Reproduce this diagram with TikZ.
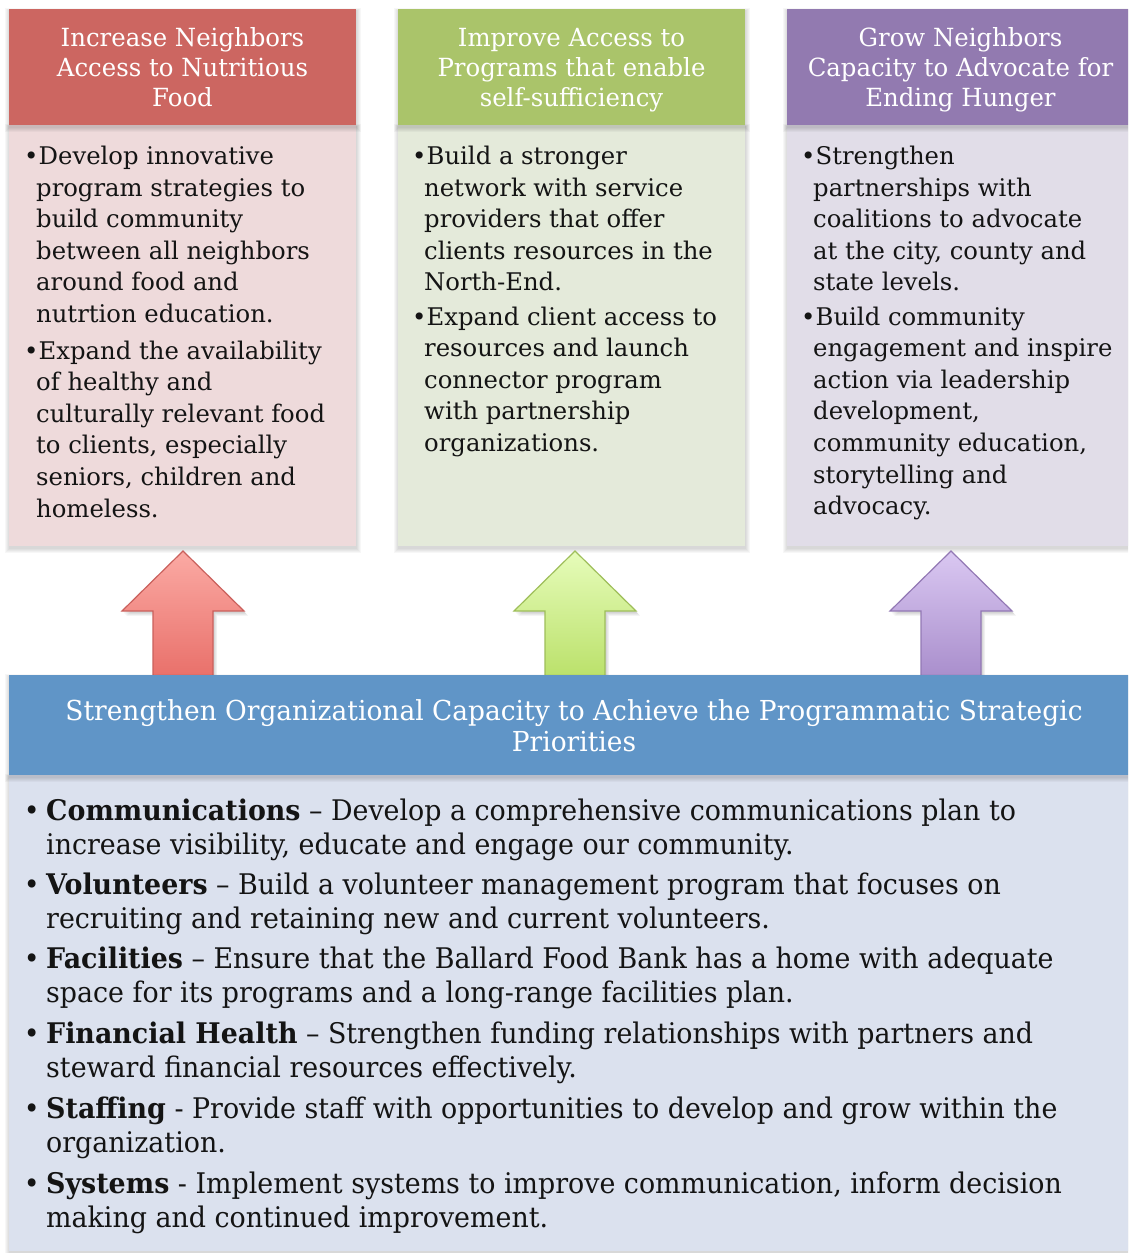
\documentclass[tikz,border=0pt]{standalone}
\usepackage{fontspec}
\setmainfont{DejaVu Serif}
\newfontfamily\headfont[FakeStretch=0.975]{DejaVu Serif}
\newfontfamily\titlefont[FakeStretch=0.962]{DejaVu Serif}
\newfontfamily\listfont[FakeStretch=0.946]{DejaVu Serif}
\usetikzlibrary{calc}

% palette
\definecolor{redhead}{RGB}{204,102,97}
\definecolor{redbody}{RGB}{238,218,219}
\definecolor{greenhead}{RGB}{170,196,106}
\definecolor{greenbody}{RGB}{228,234,218}
\definecolor{purplehead}{RGB}{146,122,176}
\definecolor{purplebody}{RGB}{225,221,232}
\definecolor{bluehead}{RGB}{96,149,199}
\definecolor{bluebody}{RGB}{219,225,238}
\definecolor{redtop}{RGB}{251,170,164}
\definecolor{redbot}{RGB}{231,106,100}
\definecolor{redline}{RGB}{202,96,92}
\definecolor{greentop}{RGB}{230,252,186}
\definecolor{greenbot}{RGB}{182,222,98}
\definecolor{greenline}{RGB}{158,190,90}
\definecolor{purpletop}{RGB}{218,200,242}
\definecolor{purplebot}{RGB}{164,136,200}
\definecolor{purpleline}{RGB}{146,120,180}
\definecolor{ink}{RGB}{20,20,20}

\newcommand\bodysize{\fontsize{24.3}{31.6}\selectfont}
\newcommand\headsize{\headfont\fontsize{25}{30}\selectfont}
\newcommand\titlesize{\titlefont\fontsize{27.5}{31}\selectfont}
\newcommand\listsize{\listfont\fontsize{28.4}{34}\selectfont}
% hanging bullet for the three goal columns
\newcommand\gbul{\leavevmode\llap{\makebox[0pt]{•}\kern5pt}\kern2.5pt}
% hanging bullet for the capacity list
\newcommand\lbul{\leavevmode\llap{\makebox[0pt]{•}\kern14.5pt}}

\tikzset{
  panel/.style={inner sep=0pt, outer sep=0pt, anchor=north west},
  headtext/.style={inner sep=0pt, anchor=base, text=white},
  goaltext/.style={inner sep=0pt, anchor=base west, text=ink},
}

% soft shadow under a rectangle
\newcommand\boxshadow[4]{%
  \foreach \k in {1,...,5}{%
    \fill[black,opacity=0.03] (#1-\k*0.9+0.5,#2-\k*0.6+2) rectangle (#3+\k*0.9+0.5,#4+\k*0.9+2);}}

% block arrow pointing up: centre x, colours
\newcommand\uparrowblock[4]{%
  \foreach \k in {1,...,4}{%
    \fill[black,opacity=0.045,shift={(\k*0.9+0.6,\k*1.0+0.8)}]
      (#1,551) -- (#1+61,611) -- (#1+30,611) -- (#1+30,690) -- (#1-30,690)
      -- (#1-30,611) -- (#1-61,611) -- cycle;}
  \shade[top color=#2, bottom color=#3, draw=#4, line width=1.2pt, line join=miter]
    (#1,551) -- (#1+61,611) -- (#1+30,611) -- (#1+30,690) -- (#1-30,690)
    -- (#1-30,611) -- (#1-61,611) -- cycle;}

\begin{document}
\begin{tikzpicture}[x=1pt,y=-1pt]
\useasboundingbox (0,0) rectangle (1128,1253);
\fill[white] (0,0) rectangle (1128,1253);
\clip (0,0) rectangle (1128,1253);

% ---- goal columns: bodies ----
\boxshadow{9}{125}{356}{546}
\boxshadow{398}{125}{745}{546}
\boxshadow{787}{125}{1134}{546}
\node[panel, fill=redbody, minimum width=347pt, minimum height=421pt] (rb) at (9,125) {};
\node[panel, fill=greenbody, minimum width=347pt, minimum height=421pt] (gb) at (398,125) {};
\node[panel, fill=purplebody, minimum width=347pt, minimum height=421pt] (pb) at (787,125) {};

% ---- goal columns: headers ----
\boxshadow{9}{9}{356}{125}
\boxshadow{398}{9}{745}{125}
\boxshadow{787}{9}{1134}{125}
\node[panel, fill=redhead, minimum width=347pt, minimum height=116pt] (rh) at (9,9) {};
\node[panel, fill=greenhead, minimum width=347pt, minimum height=116pt] (gh) at (398,9) {};
\node[panel, fill=purplehead, minimum width=347pt, minimum height=116pt] (ph) at (787,9) {};

\node[headtext] (rht) at (182.5,46.7) {\parbox[t]{400pt}{\headsize\centering
  Increase Neighbors\\Access to Nutritious\\Food}};
\node[headtext] (ght) at (571.5,46.7) {\parbox[t]{400pt}{\headsize\centering
  Improve Access to\\Programs that enable\\self-sufficiency}};
\node[headtext] (pht) at (960.5,46.7) {\parbox[t]{400pt}{\headsize\centering
  Grow Neighbors\\Capacity to Advocate for\\Ending Hunger}};

% ---- goal columns: bullet text ----
\node[goaltext] (r1) at (36,164.5) {\parbox[t]{500pt}{\bodysize\raggedright
  \gbul Develop innovative\\program strategies to\\build community\\between all neighbors\\around food and\\nutrtion education.}};
\node[goaltext] (r2) at (36,359) {\parbox[t]{500pt}{\bodysize\raggedright
  \gbul Expand the availability\\of healthy and\\culturally relevant food\\to clients, especially\\seniors, children and\\homeless.}};

\node[goaltext] (g1) at (424,164.5) {\parbox[t]{500pt}{\bodysize\raggedright
  \gbul Build a stronger\\network with service\\providers that offer\\clients resources in the\\North-End.}};
\node[goaltext] (g2) at (424,325) {\parbox[t]{500pt}{\bodysize\raggedright
  \gbul Expand client access to\\resources and launch\\connector program\\with partnership\\organizations.}};

\node[goaltext] (p1) at (813,164.5) {\parbox[t]{500pt}{\bodysize\raggedright
  \gbul Strengthen\\partnerships with\\coalitions to advocate\\at the city, county and\\state levels.}};
\node[goaltext] (p2) at (813,325) {\parbox[t]{500pt}{\bodysize\raggedright
  \gbul Build community\\engagement and inspire\\action via leadership\\development,\\community education,\\storytelling and\\advocacy.}};

% ---- up arrows ----
\uparrowblock{183}{redtop}{redbot}{redline}
\uparrowblock{575}{greentop}{greenbot}{greenline}
\uparrowblock{951}{purpletop}{purplebot}{purpleline}

% ---- organizational capacity block ----
\boxshadow{9}{775}{1134}{1251}
\node[panel, fill=bluebody, minimum width=1125pt, minimum height=476pt] (cb) at (9,775) {};
\boxshadow{9}{675}{1134}{775}
\node[panel, fill=bluehead, minimum width=1125pt, minimum height=100pt] (ch) at (9,675) {};

\node[headtext] (cht) at (574,720) {\parbox[t]{1100pt}{\titlesize\centering
  Strengthen Organizational Capacity to Achieve the Programmatic Strategic\\Priorities}};

\node[goaltext] (c1) at (46,820) {\parbox[t]{1100pt}{\listsize\raggedright
  \lbul\textbf{Communications} – Develop a comprehensive communications plan to\\increase visibility, educate and engage our community.}};
\node[goaltext] (c2) at (46,894) {\parbox[t]{1100pt}{\listsize\raggedright
  \lbul\textbf{Volunteers} – Build a volunteer management program that focuses on\\recruiting and retaining new and current volunteers.}};
\node[goaltext] (c3) at (46,968) {\parbox[t]{1100pt}{\listsize\raggedright
  \lbul\textbf{Facilities} – Ensure that the Ballard Food Bank has a home with adequate\\space for its programs and a long-range facilities plan.}};
\node[goaltext] (c4) at (46,1043) {\parbox[t]{1100pt}{\listsize\raggedright
  \lbul\textbf{Financial Health} – Strengthen funding relationships with partners and\\steward financial resources effectively.}};
\node[goaltext] (c5) at (46,1118) {\parbox[t]{1100pt}{\listsize\raggedright
  \lbul\textbf{Staffing} - Provide staff with opportunities to develop and grow within the\\organization.}};
\node[goaltext] (c6) at (46,1193) {\parbox[t]{1100pt}{\listsize\raggedright
  \lbul\textbf{Systems} - Implement systems to improve communication, inform decision\\making and continued improvement.}};
\end{tikzpicture}
\end{document}
